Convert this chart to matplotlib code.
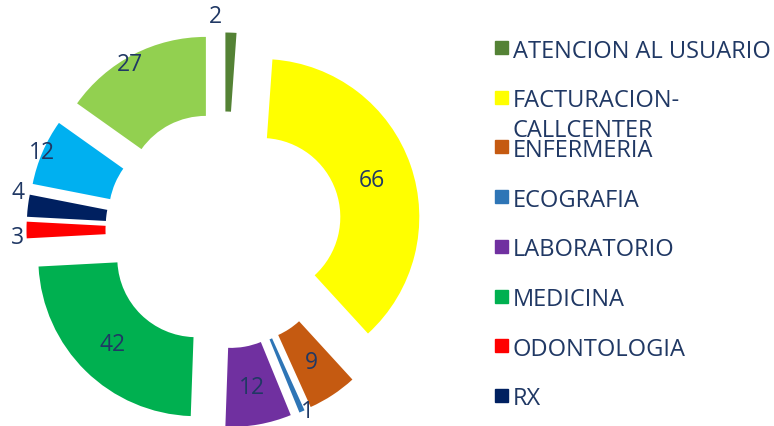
import matplotlib.pyplot as plt
import numpy as np

# data
categories = ['ATENCION AL USUARIO', 'FACTURACION-CALLCENTER', 'ENFERMERIA',
              'ECOGRAFIA', 'LABORATORIO', 'MEDICINA', 'ODONTOLOGIA', 'RX',
              'OTRO 1', 'OTRO 2']
values = [2, 66, 9, 1, 12, 42, 3, 4, 12, 27]
colors = ['#548235', '#FFFF00', '#C55A11', '#2E75B6', '#7030A0',
          '#00B050', '#FF0000', '#002060', '#00B0F0', '#92D050']
n_legend = 8  # legend in the picture only shows the first 8 entries

# label radial distance (1.0 = middle of the ring incl. explode) and angle nudge
label_r = [1.355, 0.99, 1.0, 1.263, 1.01, 1.01, 1.31, 1.326, 1.256, 1.208]
label_da = [4.4, -0.5, 0, 1.6, 0, 0, 1.9, -3.5, 0, 2.2]

txt_color = '#203864'
font = 'Open Sans'

W, H = 774, 427
fig = plt.figure(figsize=(W / 100, H / 100), dpi=100)
ax = fig.add_axes([0, 0, 1, 1])

cx, cy = 224, 231   # pixel centre of the doughnut (from top-left)
R = 158.0           # outer radius in pixels

explode = [0.25] * len(values)
wedges, _ = ax.pie(values, colors=colors, startangle=90, counterclock=False,
                   radius=1.0, explode=explode,
                   wedgeprops=dict(width=0.5, linewidth=0))
ax.set_aspect('auto')
ax.set_xlim(-cx / R, (W - cx) / R)
ax.set_ylim(-(H - cy) / R, cy / R)
ax.axis('off')

for i, w in enumerate(wedges):
    ang = np.deg2rad((w.theta1 + w.theta2) / 2 + label_da[i])
    r = label_r[i]
    ax.text(r * np.cos(ang), r * np.sin(ang), str(values[i]),
            ha='center', va='center', fontsize=16.5, color=txt_color,
            family=font)

# legend, drawn by hand
for i in range(n_legend):
    ypx = 48.5 + i * 49.7
    yf = 1 - ypx / H
    fig.patches.append(plt.Rectangle((495 / W, 1 - (ypx + 6.5) / H),
                                     13 / W, 13 / H, color=colors[i],
                                     transform=fig.transFigure, figure=fig))
    label = categories[i].replace('-', '-\n')
    fig.text(513 / W, yf + 9 / H, label, ha='left', va='top',
             fontsize=17, color=txt_color, family=font, linespacing=1.3)

fig.savefig('out.png', dpi=100)
